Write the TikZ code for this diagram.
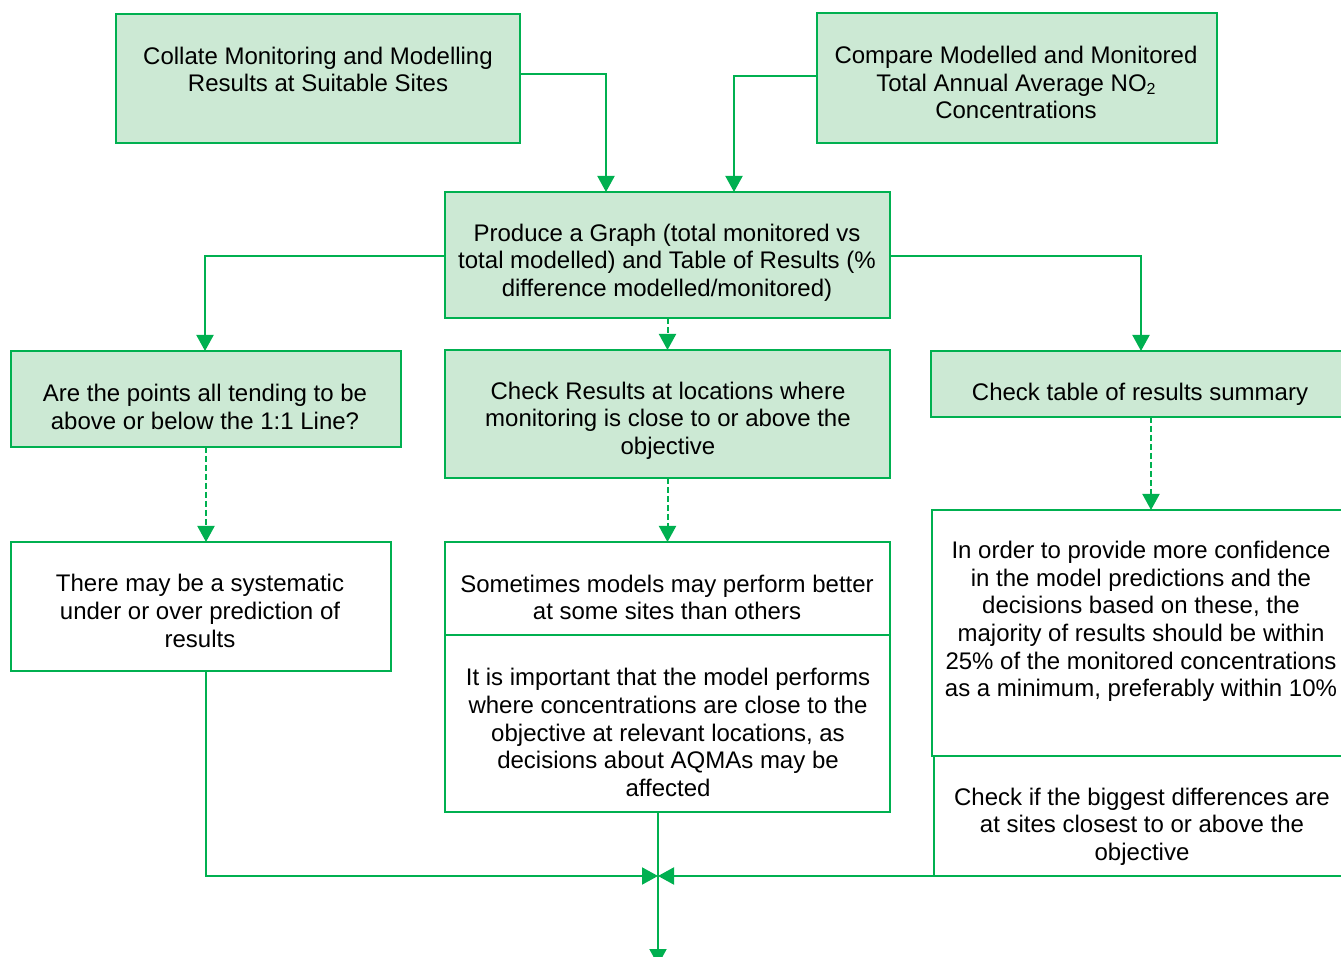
\documentclass[tikz,border=0pt]{standalone}
\usepackage{fontspec}
\setmainfont{Liberation Sans}
\usetikzlibrary{fit,arrows.meta}
\definecolor{gline}{RGB}{0,176,80}
\definecolor{gfill}{RGB}{204,233,212}
\tikzset{
  gbox/.style={draw=gline, line width=1pt, inner sep=0pt, outer sep=0pt},
  fbox/.style={gbox, fill=gfill},
  wbox/.style={gbox, fill=white},
  txt/.style={align=center, inner sep=0pt, font=\fontsize{12pt}{13.8pt}\selectfont},
  conn/.style={draw=gline, line width=1pt},
  arr/.style={conn, -{Triangle[width=8.5pt,length=8pt]}},
  darr/.style={arr, dash pattern=on 3pt off 1.5pt}
}
\begin{document}
\begin{tikzpicture}[x=0.5pt,y=-0.5pt]
\useasboundingbox (0,0) rectangle (1341,957);
\clip (0,0) rectangle (1341,957);
% boxes
\node[fbox, fit={(116,14)(520,143)}] (A) {};
\node[fbox, fit={(817,13)(1217,143)}] (B) {};
\node[fbox, fit={(445,192)(890,318)}] (C) {};
\node[fbox, fit={(11,351)(401,447)}] (D) {};
\node[fbox, fit={(445,350)(890,478)}] (E) {};
\node[fbox, fit={(931,351)(1352,417)}] (F) {};
\node[wbox, fit={(11,542)(391,671)}] (G) {};
\node[wbox, fit={(445,542)(890,635)}] (H) {};
\node[wbox, fit={(445,635)(890,812)}] (I) {};
\node[wbox, fit={(932,510)(1352,756)}] (J) {};
\node[wbox, fit={(934,756)(1352,876)}] (K) {};
% texts
\node[txt] (tA) at (318,69.5) {Collate Monitoring and Modelling\\Results at Suitable Sites};
\node[txt] (tB) at (1016,82.5) {Compare Modelled and Monitored\\Total Annual Average NO\raisebox{-0.25ex}{\fontsize{8pt}{8pt}\selectfont 2}\\Concentrations};
\node[txt] (tC) at (667,262.5) {Produce a Graph (total monitored vs\\total modelled) and Table of Results (\%\\difference modelled/monitored)};
\node[txt] (tD) at (205,407) {Are the points all tending to be\\above or below the 1:1 Line?};
\node[txt] (tE) at (668,420.5) {Check Results at locations where\\monitoring is close to or above the\\objective};
\node[txt] (tF) at (1140,394) {Check table of results summary};
\node[txt] (tG) at (200,611) {There may be a systematic\\under or over prediction of\\results};
\node[txt] (tH) at (667,597.5) {Sometimes models may perform better\\at some sites than others};
\node[txt] (tI) at (668,732.5) {It is important that the model performs\\where concentrations are close to the\\objective at relevant locations, as\\decisions about AQMAs may be\\affected};
\node[txt] (tJ) at (1141,621.5) {In order to provide more confidence\\in the model predictions and the\\decisions based on these, the\\majority of results should be within\\25\% of the monitored concentrations\\as a minimum, preferably within 10\%};
\node[txt] (tK) at (1142,826.5) {Check if the biggest differences are\\at sites closest to or above the\\objective};
% bend points
\coordinate (a1) at (606,74);
\coordinate (b1) at (734,76);
\coordinate (c1) at (205,256);
\coordinate (c2) at (1141,256);
\coordinate (f1) at (1151,0);
\coordinate (m) at (658,876);
\coordinate (out) at (658,965);
% connectors
\draw[arr] (A.east |- a1) -- (a1) -- (a1 |- C.north);
\draw[arr] (B.west |- b1) -- (b1) -- (b1 |- C.north);
\draw[arr] (C.west |- c1) -- (c1) -- (c1 |- D.north);
\draw[arr] (C.east |- c2) -- (c2) -- (c2 |- F.north);
\draw[darr] (C.south) -- (E.north);
\draw[darr] (D.south) -- (D.south |- G.north);
\draw[darr] (E.south) -- (H.north);
\draw[darr] (f1 |- F.south) -- (f1 |- J.north);
\draw[arr] (D.south |- G.south) -- (D.south |- m) -- (m);
\draw[arr] (K.south east) -- (m);
\draw[arr] (m |- I.south) -- (out);
\end{tikzpicture}
\end{document}
